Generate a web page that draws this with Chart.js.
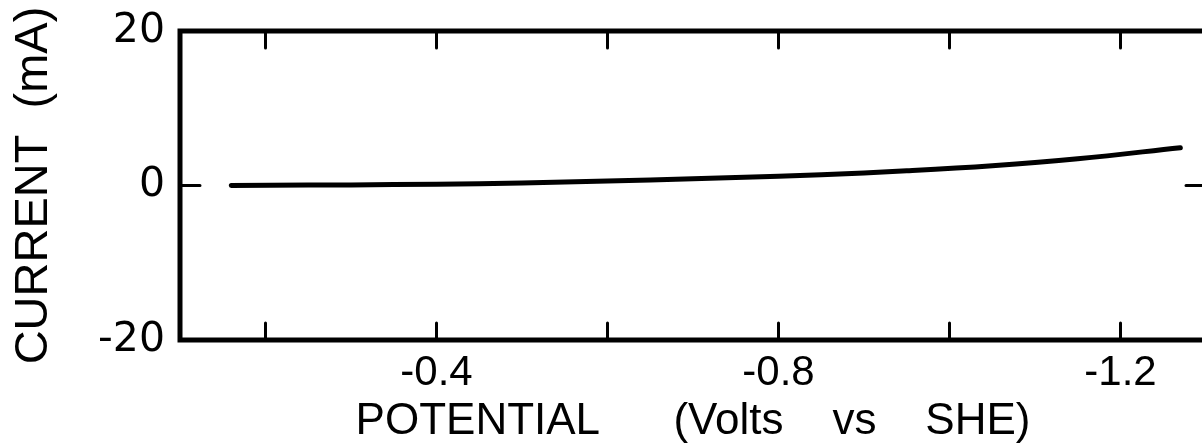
<!DOCTYPE html>
<html>
<head>
<meta charset="utf-8">
<script src="https://cdn.jsdelivr.net/npm/chart.js@4/dist/chart.umd.min.js"></script>
<style>
  html, body { margin: 0; padding: 0; background: #fff; overflow: hidden; }
  canvas { display: block; }
</style>
</head>
<body>
<canvas id="chart" width="1220" height="444"></canvas>
<script>
// polarization curve
const potential = [-0.16, -0.25, -0.35, -0.45, -0.55, -0.65, -0.75, -0.85, -0.95, -1.05, -1.15, -1.27];
const current = [0.0, 0.05, 0.12, 0.24, 0.45, 0.72, 1.02, 1.4, 1.9, 2.55, 3.45, 4.9];

const xTickValues = [-0.2, -0.4, -0.6, -0.8, -1.0, -1.2];
const xLabelValues = [-0.4, -0.8, -1.2];
const xLabels = ['-0.4', '-0.8', '-1.2'];
const yTickValues = [-20, 0, 20];
const yLabels = ['-20', '0', '20'];

const FONT = '"Liberation Sans", Arial, sans-serif';

// plot box and inward tick marks
const framePlugin = {
  id: 'frame',
  afterDraw(chart) {
    const { ctx, chartArea: a, scales } = chart;
    ctx.save();
    ctx.strokeStyle = '#000';
    ctx.lineCap = 'round';
    ctx.lineWidth = 3;
    xTickValues.forEach(v => {
      const px = scales.x.getPixelForValue(v);
      ctx.beginPath();
      ctx.moveTo(px, a.top); ctx.lineTo(px, a.top + 17);
      ctx.moveTo(px, a.bottom); ctx.lineTo(px, a.bottom - 17);
      ctx.stroke();
    });
    yTickValues.slice(1, -1).forEach(v => {
      const py = scales.y.getPixelForValue(v);
      ctx.beginPath();
      ctx.moveTo(a.left, py); ctx.lineTo(a.left + 20, py);
      ctx.moveTo(a.right, py); ctx.lineTo(a.right - 20, py);
      ctx.stroke();
    });
    ctx.lineWidth = 5;
    ctx.lineJoin = 'miter';
    ctx.strokeRect(a.left, a.top, a.right - a.left, a.bottom - a.top);
    ctx.restore();
  }
};

Chart.defaults.color = '#000';

new Chart(document.getElementById('chart'), {
  type: 'line',
  data: {
    datasets: [{
      data: potential.map((v, i) => ({ x: v, y: current[i] })),
      borderColor: '#000',
      borderWidth: 5,
      borderCapStyle: 'round',
      pointRadius: 0,
      tension: 0.4,
      fill: false
    }]
  },
  options: {
    responsive: false,
    animation: false,
    layout: { padding: { top: 31, right: 14, bottom: 0, left: 0 } },
    plugins: { legend: { display: false }, tooltip: { enabled: false } },
    scales: {
      x: {
        type: 'linear',
        min: -1.3,
        max: -0.1,
        reverse: true,
        grid: { display: false, drawTicks: false, tickLength: 0 },
        border: { display: false },
        afterBuildTicks: s => { s.ticks = xTickValues.map(v => ({ value: v })); },
        afterFit: s => { s.height = 104; },
        ticks: {
          autoSkip: false,
          maxRotation: 0,
          padding: 8,
          font: { family: FONT, size: 42 },
          callback: v => {
            const i = xLabelValues.findIndex(l => Math.abs(l - v) < 1e-6);
            return i >= 0 ? xLabels[i] : '';
          }
        },
        title: {
          display: true,
          text: 'POTENTIAL      (Volts    vs    SHE)',
          font: { family: FONT, size: 44 },
          padding: { top: 0, bottom: -4 }
        }
      },
      y: {
        min: -20,
        max: 20,
        grid: { display: false, drawTicks: false, tickLength: 0 },
        border: { display: false },
        afterBuildTicks: s => { s.ticks = yTickValues.map(v => ({ value: v })); },
        afterFit: s => { s.width = 180; },
        ticks: {
          padding: 15,
          font: { family: '"DejaVu Sans", sans-serif', size: 41, lineHeight: 0.6 },
          callback: v => yLabels[yTickValues.indexOf(v)]
        },
        title: {
          display: true,
          text: 'CURRENT  (mA)',
          font: { family: FONT, size: 47 },
          padding: { top: 6, bottom: 0 }
        }
      }
    }
  },
  plugins: [framePlugin]
});
</script>
</body>
</html>
